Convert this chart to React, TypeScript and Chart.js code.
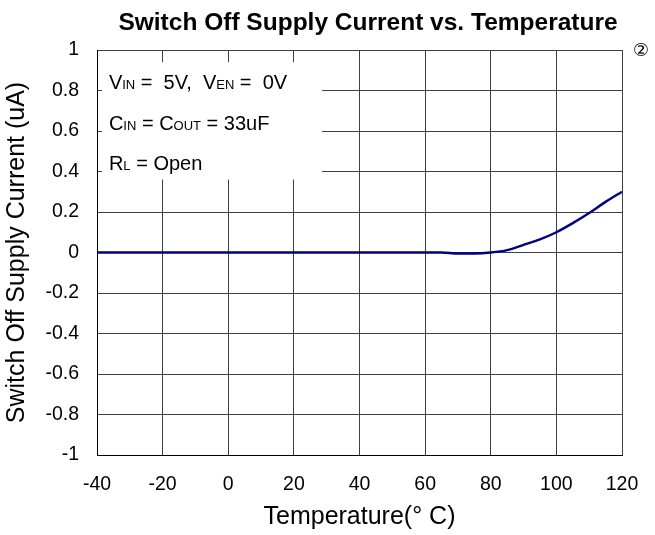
import React, { useEffect, useRef } from 'react';
import { Chart, registerables } from 'chart.js';

Chart.register(...registerables);

const temperatures = [-40, -20, 0, 20, 40, 60, 65, 70, 75, 80, 85, 90, 95, 100, 105, 110, 115, 120];
const currents = [0, 0, 0, 0, 0, 0, 0, -0.005, -0.005, 0, 0.012, 0.038, 0.065, 0.1, 0.145, 0.195, 0.25, 0.3];
const xTickValues = [-40, -20, 0, 20, 40, 60, 80, 100, 120];
const yTickValues = [-1, -0.8, -0.6, -0.4, -0.2, 0, 0.2, 0.4, 0.6, 0.8, 1];
const chartTitle = 'Switch Off Supply Current vs. Temperature';
const xAxisTitle = 'Temperature(° C)';
const yAxisTitle = 'Switch Off Supply Current (uA)';
const cornerMark = '②';
// each line: segments of [text, isSubscript]
const noteLines: [string, boolean][][] = [
  [['V', false], ['IN', true], [' =  5V,  V', false], ['EN', true], [' =  0V', false]],
  [['C', false], ['IN', true], [' = C', false], ['OUT', true], [' = 33uF', false]],
  [['R', false], ['L', true], [' = Open', false]],
];
// note box extent in data units
const noteBoxX = [-38.5, 28.6];
const noteBoxY = [0.94, 0.36];

const FONT = '"Liberation Sans", Arial, sans-serif';

const overlayPlugin = {
  id: 'overlay',
  beforeDatasetsDraw(chart: any) {
    const { ctx, scales } = chart;
    const x = scales.x;
    const y = scales.y;
    const x0 = x.getPixelForValue(noteBoxX[0]);
    const x1 = x.getPixelForValue(noteBoxX[1]);
    const y0 = y.getPixelForValue(noteBoxY[0]);
    const y1 = y.getPixelForValue(noteBoxY[1]);
    ctx.save();
    ctx.fillStyle = '#ffffff';
    ctx.fillRect(x0, y0, x1 - x0, y1 - y0);
    ctx.fillStyle = '#000000';
    ctx.textBaseline = 'alphabetic';
    ctx.textAlign = 'left';
    const lineGap = 40.5;
    noteLines.forEach((segs, i) => {
      let cx = x0 + 7;
      const by = y0 + 27 + i * lineGap;
      segs.forEach(([t, sub]) => {
        ctx.font = sub ? `13px ${FONT}` : `20px ${FONT}`;
        ctx.fillText(t, cx, by);
        cx += ctx.measureText(t).width;
      });
    });
    ctx.restore();
  },
  afterDraw(chart: any) {
    const { ctx, chartArea } = chart;
    ctx.save();
    ctx.fillStyle = '#000000';
    ctx.textAlign = 'center';
    ctx.textBaseline = 'alphabetic';
    ctx.font = `bold 24.5px ${FONT}`;
    ctx.fillText(chartTitle, 368, 30);
    ctx.font = `18px "DejaVu Sans", sans-serif`;
    ctx.textBaseline = 'middle';
    ctx.fillText(cornerMark, chartArea.right + 19, chartArea.top + 1);
    ctx.restore();
  },
};

export default function App() {
  const ref = useRef<HTMLCanvasElement | null>(null);
  useEffect(() => {
    if (!ref.current) return;
    const chart = new Chart(ref.current, {
      type: 'line',
      data: {
        datasets: [
          {
            data: temperatures.map((t, i) => ({ x: t, y: currents[i] })),
            borderColor: '#000080',
            borderWidth: 2.4,
            pointRadius: 0,
            fill: false,
            cubicInterpolationMode: 'monotone',
          },
        ],
      },
      options: {
        animation: false,
        responsive: false,
        layout: { padding: { top: 50, right: 33, left: 0, bottom: 0 } },
        plugins: { legend: { display: false }, tooltip: { enabled: false }, title: { display: false } },
        scales: {
          x: {
            type: 'linear',
            min: -40,
            max: 120,
            afterFit: (s: any) => { s.height = 80; s.paddingLeft = 0; s.paddingRight = 0; },
            afterBuildTicks: (s: any) => { s.ticks = xTickValues.map((v) => ({ value: v })); },
            grid: { color: '#404040', lineWidth: 1, drawTicks: false },
            border: { color: '#000000', width: 1 },
            ticks: { color: '#000000', font: { family: FONT, size: 19.5 }, padding: 18, maxRotation: 0 },
            title: { display: true, text: xAxisTitle, color: '#000000', font: { family: FONT, size: 25 }, padding: { top: 0, bottom: 3 } },
          },
          y: {
            type: 'linear',
            min: -1,
            max: 1,
            afterFit: (s: any) => { s.width = 97; s.paddingTop = 0; s.paddingBottom = 0; },
            afterBuildTicks: (s: any) => { s.ticks = yTickValues.map((v) => ({ value: v })); },
            grid: { color: '#404040', lineWidth: 1, drawTicks: false },
            border: { color: '#000000', width: 1 },
            ticks: {
              color: '#000000',
              font: { family: FONT, size: 19.5 },
              padding: 18,
              callback: (v: any) => String(Number(Number(v).toFixed(1))),
            },
            title: { display: true, text: yAxisTitle, color: '#000000', font: { family: FONT, size: 25 }, padding: { top: 2, bottom: 0 } },
          },
        },
      },
      plugins: [overlayPlugin],
    } as any);
    return () => chart.destroy();
  }, []);
  return (
    <div style={{ position: 'fixed', left: 0, top: 0, width: 655, height: 535, background: '#fff' }}>
      <canvas ref={ref} width={655} height={535} />
    </div>
  );
}
